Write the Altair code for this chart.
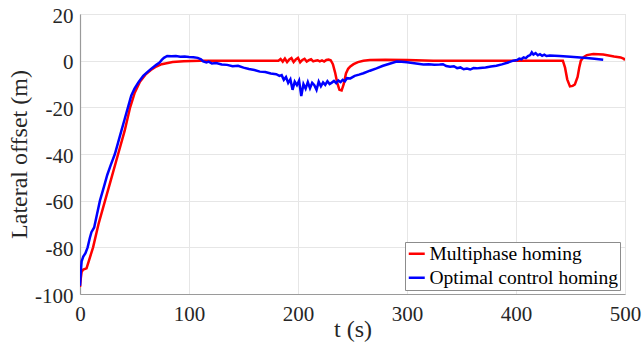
import altair as alt
import pandas as pd

red_t = [0, 0.8, 1.5, 3, 6, 8, 12, 17, 23, 29, 35, 41, 46, 50, 55, 60, 65, 70, 75, 85, 95, 110, 150,
         182, 184, 186, 188, 190, 192, 194, 196, 198, 200, 202, 204, 206, 208, 210, 212, 214, 216, 218,
         220, 222, 224, 226, 228, 230, 232, 234, 236, 238, 240, 242, 244, 246, 248, 251, 255, 260, 266,
         280, 300, 324, 350, 400, 443, 445, 447, 449.5, 452, 454, 456.5, 458, 459.5, 462, 465, 471, 480,
         490, 496, 499, 500]
red_y = [-97, -93, -90.5, -89.5, -89, -86, -80, -70, -60, -50, -40, -30, -20, -14, -9, -6, -4, -2.5, -1.5,
         -0.6, -0.2, 0, 0,
         0, 0.7, -0.4, 0.9, -0.6, 0.5, 1.1, -0.6, 0.5, 1.2, -0.7, 0.3, 0.8, -0.4, 0.2, 0.6, -0.3, 0, 0.2,
         -0.3, 0.1, -0.4, 0.3, 0.5, 0.2, -1.5, -5, -9.5, -12.5, -12.8, -10, -5.5, -3.5, -2.5, -1.5, -0.6, 0,
         0.3, 0.4, 0.3, 0, 0, 0, 0, -3, -8, -11, -10.8, -10.2, -7, -3, 0, 1.5, 2.4, 2.9, 2.6,
         1.8, 1.4, 0.8, 0.2]

blue_t = [0, 0.8, 1.5, 3, 5, 7, 9, 10.5, 13, 15.5, 18.3, 22, 25, 28, 32, 35, 38, 41, 44, 47, 50, 54, 58,
          62, 66, 70, 73, 75, 77, 80, 84, 88, 92, 96, 100, 104, 108, 111, 113, 116, 118, 121, 125, 130,
          135, 140, 145, 150, 155, 160, 165, 170, 175, 180, 183, 185, 187, 189, 191, 193, 195, 197, 199,
          201, 203, 205, 207, 209, 211, 213, 215, 217, 219, 221, 223, 225, 227, 229, 231, 233, 235, 237,
          239, 241, 243, 245, 248, 252, 256, 260, 266, 272, 278, 284, 290.5, 295, 300, 305, 310, 315, 320,
          325, 330, 333, 336, 339.5, 343, 346, 349, 352, 355, 358, 361, 364, 367, 372, 377, 382, 387, 392,
          397.5, 401, 403, 405, 407, 409, 411, 413, 414.5, 416, 418, 420, 422, 424, 426, 428, 431, 440,
          450, 459, 465, 472, 480]
blue_y = [-96.5, -90, -86, -84, -82.5, -80, -76, -73.5, -71.5, -66, -60, -54, -49, -45, -40, -35, -30, -25,
          -20, -15, -12, -9, -6.5, -4.8, -3.2, -1.8, -0.8, 0.3, 1.2, 2, 1.9, 2.0, 1.7, 1.8, 1.6, 1.5, 1.2,
          0.6, -0.3, -0.8, -0.4, -1.2, -1.0, -1.6, -1.8, -2.4, -2.2, -3.0, -3.6, -4.0, -4.7, -4.9, -5.5,
          -5.8, -6.5, -6.2, -8.2, -7.0, -9.5, -8.0, -12.5, -9.0, -10.5, -8.5, -15.2, -10.0, -12.0, -9.2,
          -11.8, -9.5, -10.5, -12.5, -9.0, -11.0, -9.3, -10.4, -8.8, -10.0, -9.4, -8.7, -9.6, -8.5, -9.2,
          -8.2, -8.8, -7.5, -7.6, -6.5, -6.0, -5.4, -4.3, -3.3, -2.2, -1.3, -0.4, -0.5, -0.7, -1.0, -1.3,
          -1.6, -1.5, -1.7, -1.6, -1.5, -2.3, -2.6, -2.4, -3.2, -2.9, -3.7, -3.4, -3.8, -3.2, -3.3, -3.1,
          -2.9, -2.5, -2.2, -1.6, -0.9, 0, 0.3, 0.9, 0.6, 1.4, 1.1, 2.0, 2.4, 3.6, 2.6, 3.2, 2.3, 2.8, 2.1,
          2.6, 2.0, 2.2, 2.0, 1.7, 1.4, 1.1, 0.8, 0.4]

series = ["Multiphase homing", "Optimal control homing"]
colors = ["#ff0000", "#0000ff"]
x_ticks = [0, 100, 200, 300, 400, 500]
y_ticks = [-100, -80, -60, -40, -20, 0, 20]

rows = []
for t, y in zip(red_t, red_y):
    rows.append({"t": t, "y": y, "s": series[0], "o": 0})
for t, y in zip(blue_t, blue_y):
    rows.append({"t": t, "y": y, "s": series[1], "o": 1})
df = pd.DataFrame(rows)

FONT = "Liberation Serif"

chart = alt.Chart(df).mark_line(strokeWidth=2.5, clip=True).encode(
    x=alt.X("t:Q", scale=alt.Scale(domain=[0, 500], nice=False),
            axis=alt.Axis(title="t (s)", values=x_ticks, labelExpr="'' + datum.value",
                          labelFlush=False, labelPadding=9, titlePadding=-7)),
    y=alt.Y("y:Q", scale=alt.Scale(domain=[-100, 20], nice=False),
            axis=alt.Axis(title="Lateral offset (m)", values=y_ticks, labelExpr="'' + datum.value",
                          labelFlush=False, labelPadding=7, labelOffset=2, titlePadding=3)),
    color=alt.Color("s:N", scale=alt.Scale(domain=series, range=colors),
                    legend=alt.Legend(title=None, orient="none", legendX=325, legendY=228,
                                      symbolType="stroke", symbolSize=256, symbolStrokeWidth=2.5,
                                      labelFont=FONT, labelFontSize=19.5, labelColor="#000000",
                                      strokeColor="#8c8c8c", fillColor="#ffffff", padding=2,
                                      rowPadding=3, labelOffset=3, labelLimit=300)),
    detail="o:N",
    order="o:Q",
).properties(
    width=545, height=280,
    autosize=alt.AutoSizeParams(type="none"),
    padding={"left": 80, "top": 14, "right": 17, "bottom": 51},
).configure_view(
    stroke="#d9d9d9", strokeWidth=1
).configure_axis(
    labelFont=FONT, labelFontSize=21, labelColor="#262626",
    titleFont=FONT, titleFontSize=24, titleColor="#262626", titleFontWeight="normal",
    grid=True, gridColor="#e6e6e6", gridWidth=1,
    domainColor="#9a9a9a", domainWidth=1.2, ticks=False,
)

chart.save("out.html", embed_options={"renderer": "svg", "actions": False})
